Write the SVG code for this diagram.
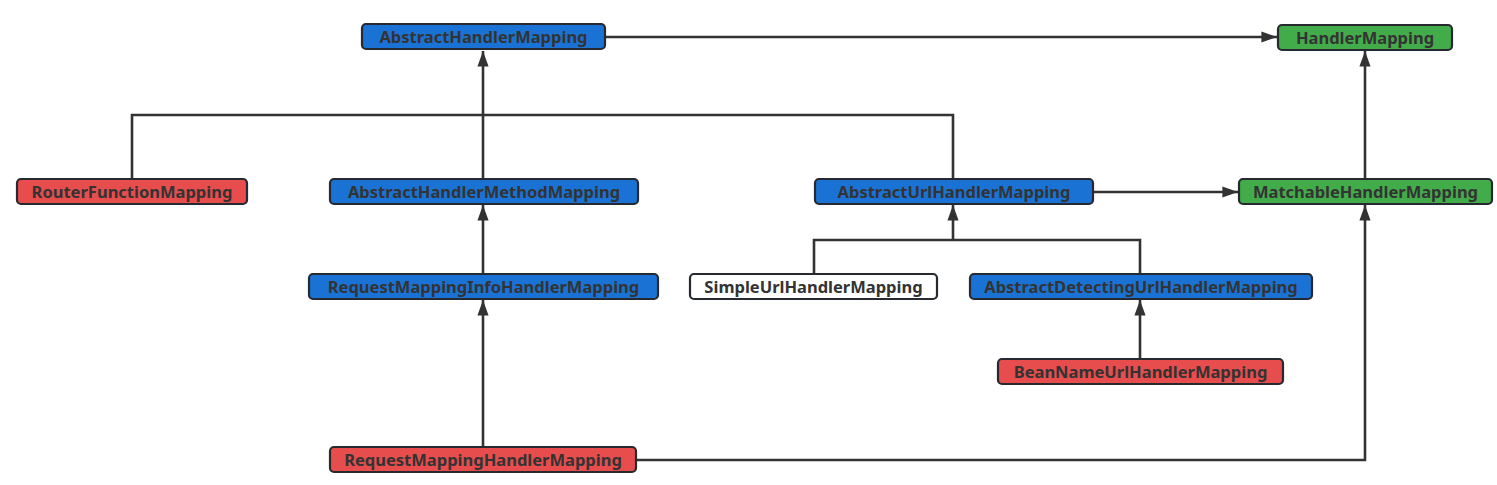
<svg xmlns="http://www.w3.org/2000/svg" width="1497" height="485" viewBox="0 0 1497 485">
<defs>
<style>
.n rect{stroke:#262a30;stroke-width:2.2}
.blue rect{fill:#1a73d4}
.green rect{fill:#43ac4a}
.red rect{fill:#e84d4d}
.white rect{fill:#ffffff}
.n text{font-family:"Noto Sans","Liberation Sans",sans-serif;font-weight:bold;font-size:16.5px;fill:#333333;text-anchor:middle;dominant-baseline:central}
.c path{fill:none;stroke:#333333;stroke-width:2.6}
</style>
<marker id="arr" viewBox="0 0 14 10" refX="14" refY="5" markerWidth="6" markerHeight="4.3" orient="auto" markerUnits="strokeWidth">
<path d="M0,0 L14,5 L0,10 Z" fill="#333333"/>
</marker>
</defs>
<rect width="1497" height="485" fill="#ffffff"/>
<g class="c" id="connectors">
<path d="M605,37 H1277" marker-end="url(#arr)"/>
<path d="M483,179 V51" marker-end="url(#arr)"/>
<path d="M132,179 V115 H953 V179"/>
<path d="M1365,179 V51" marker-end="url(#arr)"/>
<path d="M1093,192 H1238" marker-end="url(#arr)"/>
<path d="M483,274 V205" marker-end="url(#arr)"/>
<path d="M814,274 V240 H1140 V274"/>
<path d="M953,240 V205" marker-end="url(#arr)"/>
<path d="M1140,359 V300" marker-end="url(#arr)"/>
<path d="M483,447 V300" marker-end="url(#arr)"/>
<path d="M636,460 H1365 V205" marker-end="url(#arr)"/>
</g>
<g id="AbstractHandlerMapping" class="n blue"><rect x="362" y="24" width="243" height="25" rx="4"/><text x="483.5" y="36.5">AbstractHandlerMapping</text></g>
<g id="HandlerMapping" class="n green"><rect x="1278" y="25" width="174" height="25" rx="4"/><text x="1365" y="37.5">HandlerMapping</text></g>
<g id="RouterFunctionMapping" class="n red"><rect x="17" y="179" width="230" height="25" rx="4"/><text x="132" y="191.5">RouterFunctionMapping</text></g>
<g id="AbstractHandlerMethodMapping" class="n blue"><rect x="330" y="179" width="308" height="25" rx="4"/><text x="484" y="191.5">AbstractHandlerMethodMapping</text></g>
<g id="AbstractUrlHandlerMapping" class="n blue"><rect x="815" y="179" width="278" height="25" rx="4"/><text x="954" y="191.5">AbstractUrlHandlerMapping</text></g>
<g id="MatchableHandlerMapping" class="n green"><rect x="1239" y="179" width="253" height="25" rx="4"/><text x="1365.5" y="191.5">MatchableHandlerMapping</text></g>
<g id="RequestMappingInfoHandlerMapping" class="n blue"><rect x="309" y="274" width="349" height="25" rx="4"/><text x="483.5" y="286.5">RequestMappingInfoHandlerMapping</text></g>
<g id="SimpleUrlHandlerMapping" class="n white"><rect x="690" y="274" width="247" height="25" rx="4"/><text x="813.5" y="286.5">SimpleUrlHandlerMapping</text></g>
<g id="AbstractDetectingUrlHandlerMapping" class="n blue"><rect x="970" y="274" width="342" height="25" rx="4"/><text x="1141" y="286.5">AbstractDetectingUrlHandlerMapping</text></g>
<g id="BeanNameUrlHandlerMapping" class="n red"><rect x="998" y="359" width="285" height="25" rx="4"/><text x="1140.5" y="371.5">BeanNameUrlHandlerMapping</text></g>
<g id="RequestMappingHandlerMapping" class="n red"><rect x="330" y="447" width="306" height="25" rx="4"/><text x="483" y="459.5">RequestMappingHandlerMapping</text></g>
</svg>
